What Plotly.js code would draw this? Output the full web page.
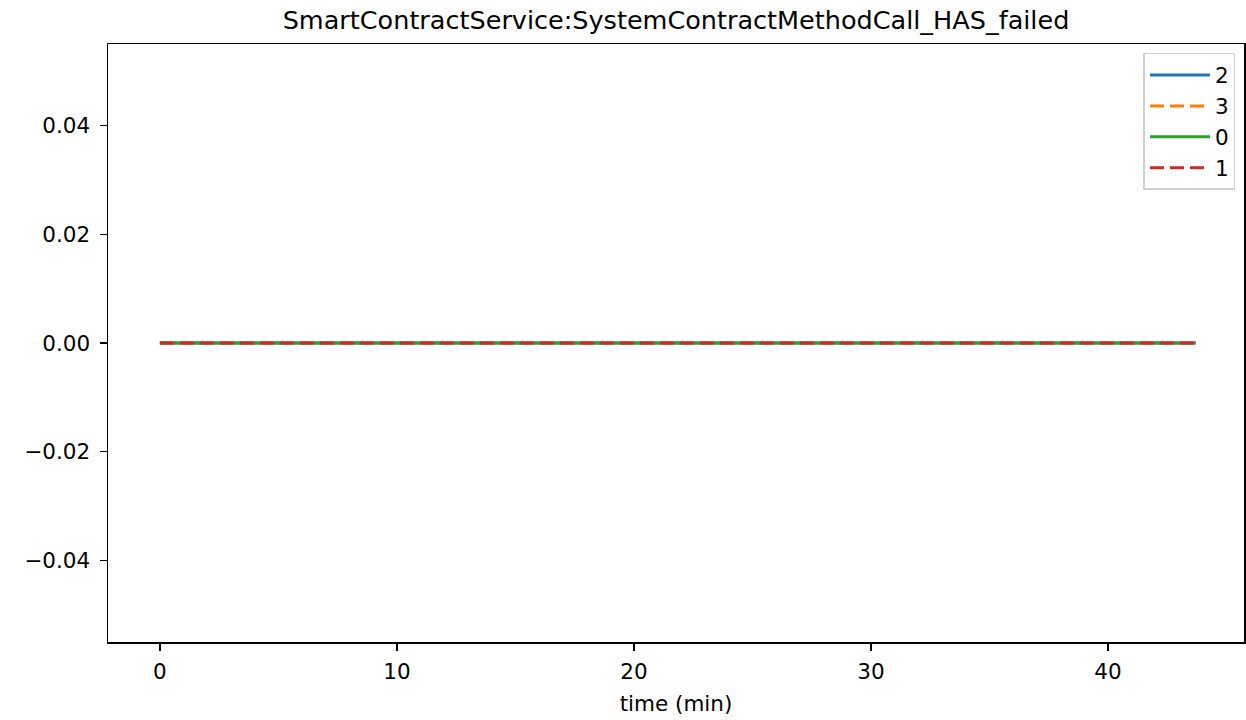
<!DOCTYPE html>
<html>
<head>
<meta charset="utf-8">
<script src="https://cdn.plot.ly/plotly-3.0.1.min.js"></script>
<style>html,body{margin:0;padding:0;background:#fff;}#chart{width:1246px;height:720px;}</style>
</head>
<body>
<div id="chart"></div>
<script>
// Data (all series flat at zero)
const seriesNames = ["2", "3", "0", "1"];
const timeMin = [0, 5, 10, 15, 20, 25, 30, 35, 40, 43.7];
const values2 = [0, 0, 0, 0, 0, 0, 0, 0, 0, 0];
const values3 = [0, 0, 0, 0, 0, 0, 0, 0, 0, 0];
const values0 = [0, 0, 0, 0, 0, 0, 0, 0, 0, 0];
const values1 = [0, 0, 0, 0, 0, 0, 0, 0, 0, 0];
const xTickVals = [0, 10, 20, 30, 40];
const yTickVals = [-0.04, -0.02, 0, 0.02, 0.04];

const colors = ["#1f77b4", "#ff7f0e", "#2ca02c", "#d62728"];
const dashes = ["solid", "14px,6px", "solid", "14px,6px"];
const allValues = [values2, values3, values0, values1];

const traces = seriesNames.map((n, i) => ({
  x: timeMin, y: allValues[i], name: n, type: "scatter", mode: "lines",
  legendgroup: "g" + n,
  line: {color: colors[i], width: 3, dash: dashes[i]}
}));

const font = "DejaVu Sans, sans-serif";
const layout = {
  width: 1246, height: 720,
  margin: {l: 108, r: 2, t: 44, b: 78},
  paper_bgcolor: "#fff", plot_bgcolor: "#fff",
  font: {family: font, size: 22, color: "#000"},
  title: {text: "SmartContractService:SystemContractMethodCall_HAS_failed",
          font: {family: font, size: 25.5, color: "#000"},
          x: 0.5, xref: "paper", y: 1, yref: "paper", yanchor: "bottom", pad: {b: 15}},
  xaxis: {range: [-2.19, 45.74], tickvals: xTickVals, ticks: "outside", ticklen: 7, tickwidth: 1.5,
          tickcolor: "#000", showline: true, linecolor: "#000", linewidth: 1.5, mirror: true,
          showgrid: false, zeroline: false, tickfont: {size: 21.5}, ticklabelstandoff: 3,
          title: {text: "time (min)", font: {size: 21.5}, standoff: 12}},
  yaxis: {range: [-0.055, 0.055], tickvals: yTickVals, tickformat: ".2f", ticks: "outside", ticklen: 7,
          tickwidth: 1.5, tickcolor: "#000", showline: true, linecolor: "#000", linewidth: 1.5, mirror: true,
          showgrid: false, zeroline: false, tickfont: {size: 21.5}, ticklabelstandoff: 5},
  showlegend: true,
  legend: {x: 0.9925, y: 0.985, xanchor: "right", yanchor: "top", bgcolor: "rgba(255,255,255,0.8)",
           bordercolor: "#d0d0d0", borderwidth: 1.5, font: {size: 21.5}, tracegroupgap: 0, itemwidth: 60}
};

Plotly.newPlot("chart", traces, layout, {displayModeBar: false, staticPlot: true});
</script>
</body>
</html>
